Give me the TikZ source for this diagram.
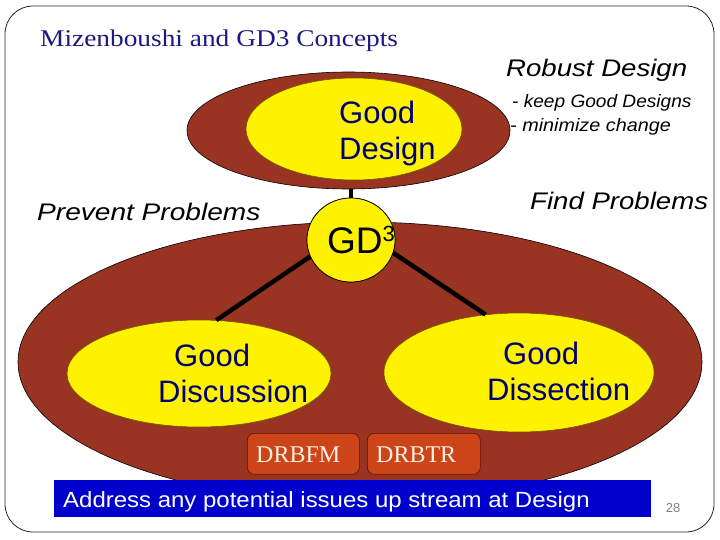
\documentclass[tikz,border=0pt]{standalone}
\usepackage{fontspec}
\setmainfont{Liberation Serif}
\newfontfamily\arialfam{Liberation Sans}
\usetikzlibrary{shapes.geometric}
\definecolor{brownfill}{RGB}{153,51,34}
\definecolor{navytext}{RGB}{0,0,112}
\definecolor{titleblue}{RGB}{26,26,128}
\definecolor{boxfill}{RGB}{204,68,24}
\definecolor{boxline}{RGB}{90,20,10}
\definecolor{boxtext}{RGB}{255,240,225}
\definecolor{barblue}{RGB}{0,0,204}
\definecolor{pagegray}{RGB}{128,128,128}
\definecolor{yellowline}{RGB}{110,90,0}
\newcommand\xstretch[2]{\scalebox{#1}[1]{#2}}
\begin{document}
\begin{tikzpicture}[x=1pt,y=-1pt,
  brownell/.style={ellipse, draw=black, line width=0.6pt, fill=brownfill, inner sep=0pt},
  yellowell/.style={ellipse, draw=yellowline, line width=0.6pt, fill=yellow, inner sep=0pt},
  gdcircle/.style={ellipse, draw=black, line width=0.7pt, fill=yellow, inner sep=0pt},
  conn/.style={line width=4.5pt, draw=black},
  drbox/.style={draw=boxline, fill=boxfill, rounded corners=7pt, line width=0.6pt, minimum height=41pt, inner sep=0pt, anchor=north west},
  drtext/.style={anchor=base west, inner sep=0pt, text=boxtext, font=\fontsize{24}{26}\selectfont},
  elltext/.style={anchor=base west, inner sep=0pt, text=navytext, font=\arialfam\fontsize{31}{34}\selectfont},
  sidetext/.style={anchor=base west, inner sep=0pt, text=black, font=\arialfam\itshape\fontsize{24}{28}\selectfont},
  subtext/.style={anchor=base west, inner sep=0pt, text=black, font=\arialfam\itshape\fontsize{18}{22}\selectfont}]
\useasboundingbox (0,0) rectangle (720,540);
\fill[white] (0,0) rectangle (720,540);
% slide frame
\draw[black!85, line width=0.8pt, rounded corners=28pt] (5,6) rectangle (714,532);
% title
\node[anchor=base west, inner sep=0pt, text=titleblue, font=\fontsize{24}{28}\selectfont] (title) at (40,47) {\xstretch{1.14}{Mizenboushi and GD3 Concepts}};
% ellipses
\node[brownell, minimum width=323pt, minimum height=117pt] (topout) at (348.5,130.5) {};
\node[yellowell, minimum width=216pt, minimum height=102pt] (gdesign) at (354,129) {};
\node[brownell, minimum width=684pt, minimum height=280pt] (bigout) at (360,362) {};
\node[yellowell, minimum width=264pt, minimum height=107pt] (gdisc) at (199,373.5) {};
\node[yellowell, minimum width=270pt, minimum height=119pt] (gdiss) at (519,372.5) {};
\node[gdcircle, minimum width=88pt, minimum height=84pt] (gd3) at (351,240) {};
% connectors
\draw[conn] (gd3.202) -- (gdisc.72);
\draw[conn] (gd3.-17) -- (gdiss.120);
\draw[conn] (gd3.north) -- (gd3.north |- topout.south);
\node[gdcircle, minimum width=88pt, minimum height=84pt] (gd3b) at (gd3) {};
% ellipse texts
\node[elltext] (gd1) at (339,124) {Good};
\node[elltext] (gd2) at (339,160) {Design};
\node[elltext] (dc1) at (174,366) {Good};
\node[elltext] (dc2) at (158,402) {Discussion};
\node[elltext] (ds1) at (503,364) {Good};
\node[elltext] (ds2) at (487,400) {Dissection};
\node[anchor=base west, inner sep=0pt, font=\arialfam\fontsize{37}{40}\selectfont] (gdtxt) at (327,253) {GD\raisebox{12pt}{\fontsize{22}{24}\selectfont 3}};
% side texts
\node[sidetext] (robust) at (506,77) {\xstretch{1.15}{Robust Design}};
\node[subtext] (keep) at (512,108) {\xstretch{1.06}{- keep Good Designs}};
\node[subtext] (mini) at (510,132) {\xstretch{1.1}{- minimize change}};
\node[sidetext] (find) at (530,210) {\xstretch{1.15}{Find Problems}};
\node[sidetext] (prevent) at (37,221) {\xstretch{1.17}{Prevent Problems}};
% boxes
\node[drbox, minimum width=112pt] (drbfm) at (247,433) {};
\node[drbox, minimum width=113pt] (drbtr) at (367,433) {};
\node[drtext] (drbfmt) at (256,462) {DRBFM};
\node[drtext] (drbtrt) at (376,462) {DRBTR};
% bottom bar
\node[anchor=north west, fill=barblue, minimum width=597pt, minimum height=37pt, inner sep=0pt] (bar) at (54,480) {};
\node[anchor=base west, inner sep=0pt, text=white, font=\arialfam\fontsize{22}{26}\selectfont] (bartext) at (63,507) {\xstretch{1.09}{Address any potential issues up stream at Design}};
\node[anchor=base, inner sep=0pt, text=pagegray, font=\arialfam\fontsize{13}{15}\selectfont] (pg) at (673,512) {28};
\end{tikzpicture}
\end{document}
